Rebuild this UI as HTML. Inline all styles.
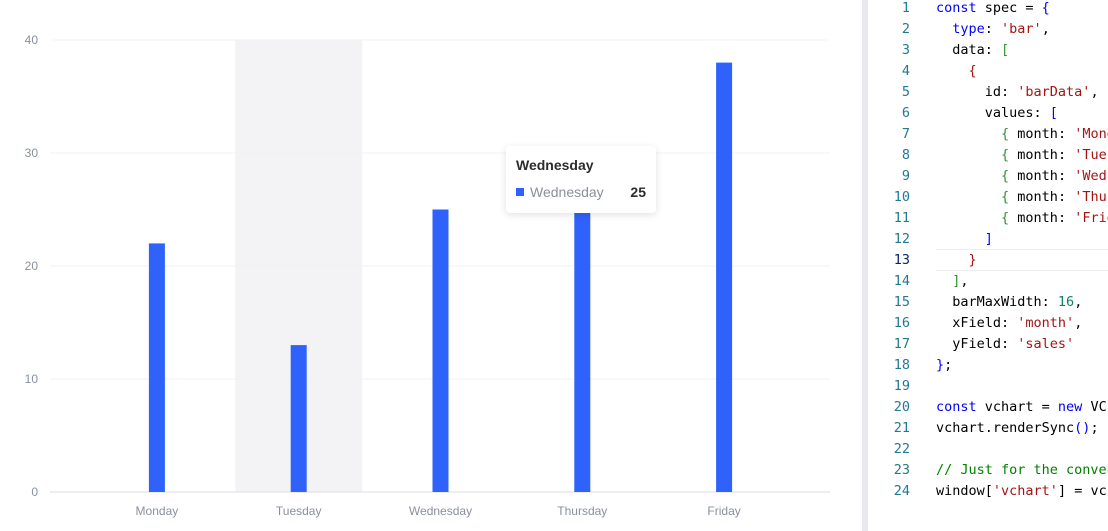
<!DOCTYPE html>
<html><head><meta charset="utf-8"><style>
body{margin:0;width:1108px;height:531px;overflow:hidden;background:#fff;font-family:"Liberation Sans",sans-serif;position:relative}
#chart{position:absolute;left:0;top:0}
#divider{position:absolute;left:862px;top:0;width:6px;height:531px;background:#e8e8ee}
#code{position:absolute;left:868px;top:0;width:240px;height:531px;overflow:hidden;font-family:"DejaVu Sans Mono","Liberation Mono",monospace;font-size:13.5px}
.ln{position:absolute;left:0;width:42px;text-align:right;color:#237893}
.cl{position:absolute;left:68px;white-space:pre;color:#000}
.k{color:#0000ff}.s{color:#a31515}.n{color:#098658}.c{color:#008000}.g{color:#319331}
#tooltip{position:absolute;left:506px;top:146px;width:150px;height:67px;background:#fff;border-radius:4px;box-shadow:0 2px 8px rgba(0,0,0,.12);font-size:14px}
</style></head><body>
<svg id="chart" width="860" height="531"></svg>
<div id="divider"></div>
<div id="tooltip">
<div style="position:absolute;left:10px;top:11px;color:#2c2c2c;font-weight:bold;font-size:14px">Wednesday</div>
<div style="position:absolute;left:10px;top:42px;width:8px;height:8px;background:#2e62fb"></div>
<div style="position:absolute;left:24px;top:38px;color:#8a8f99">Wednesday</div>
<div style="position:absolute;right:10px;top:38px;color:#2c2c2c;font-weight:bold">25</div>
</div>
<div id="code"></div>
<script>
const categories=['Monday','Tuesday','Wednesday','Thursday','Friday'];
const sales=[22,13,25,27,38];
const yTicks=[0,10,20,30,40];
const svg=document.getElementById('chart');
const NS='http://www.w3.org/2000/svg';
const ax0=50,ax1=830,x0=86,x1=795,y0=492,y1=40,yMax=40;
const band=(x1-x0)/categories.length;
const xs=i=>x0+band*(i+0.5);
const ys=v=>y0-(v/yMax)*(y0-y1);
function mk(t,a){const e=document.createElementNS(NS,t);for(const k in a)e.setAttribute(k,a[k]);svg.appendChild(e);return e;}
let hl=mk('rect',{x:xs(1)-63.5,y:y1,width:127,height:y0-y1,fill:'#f3f3f5'});


yTicks.forEach(t=>{
 const y=ys(t);
 const l=mk('line',{x1:ax0,x2:ax1,y1:y,y2:y,stroke:t===0?'#d9dde4':'#f1f2f5','stroke-width':1});
 
 
 const tx=mk('text',{x:38,y:y+4,'text-anchor':'end','font-size':12,fill:'#89909d'});
 tx.textContent=t;
 
 
});
categories.forEach((c,i)=>{
 const r=mk('rect',{x:xs(i)-8,y:ys(sales[i]),width:16,height:y0-ys(sales[i]),fill:'#2e62fb'});
 
 
 const t=mk('text',{x:xs(i),y:515,'text-anchor':'middle','font-size':12,fill:'#89909d'});
 t.textContent=c;
 
 
});
const lines=[
'<span class="k">const</span> spec = <span class="k">{</span>',
'  <span class="k">type</span>: <span class="s">\'bar\'</span>,',
'  data: <span class="g">[</span>',
'    <span class="s">{</span>',
'      id: <span class="s">\'barData\'</span>,',
'      values: <span class="k">[</span>',
'        <span class="g">{</span> month: <span class="s">\'Monday\'</span>',
'        <span class="g">{</span> month: <span class="s">\'Tuesday\'</span>',
'        <span class="g">{</span> month: <span class="s">\'Wednesday\'</span>',
'        <span class="g">{</span> month: <span class="s">\'Thursday\'</span>',
'        <span class="g">{</span> month: <span class="s">\'Friday\'</span>',
'      <span class="k">]</span>',
'    <span class="s">}</span>',
'  <span class="g">]</span>,',
'  barMaxWidth: <span class="n">16</span>,',
'  xField: <span class="s">\'month\'</span>,',
'  yField: <span class="s">\'sales\'</span>',
'<span class="k">}</span>;',
'',
'<span class="k">const</span> vchart = <span class="k">new</span> VChart',
'vchart.renderSync<span class="k">()</span>;',
'',
'<span class="c">// Just for the convenience</span>',
'window[<span class="s">\'vchart\'</span>] = vchart;'];
const code=document.getElementById('code');
let h='<div style="position:absolute;left:68px;top:249px;width:180px;height:20px;border-top:1px solid #eee;border-bottom:1px solid #eee"></div>';
lines.forEach((l,i)=>{const y=i*21;
h+=`<div class="ln" style="top:${y}px;${i===12?'color:#0b216f':''}">${i+1}</div><div class="cl" style="top:${y}px">${l}</div>`;});
code.innerHTML=h;
</script>
</body></html>
